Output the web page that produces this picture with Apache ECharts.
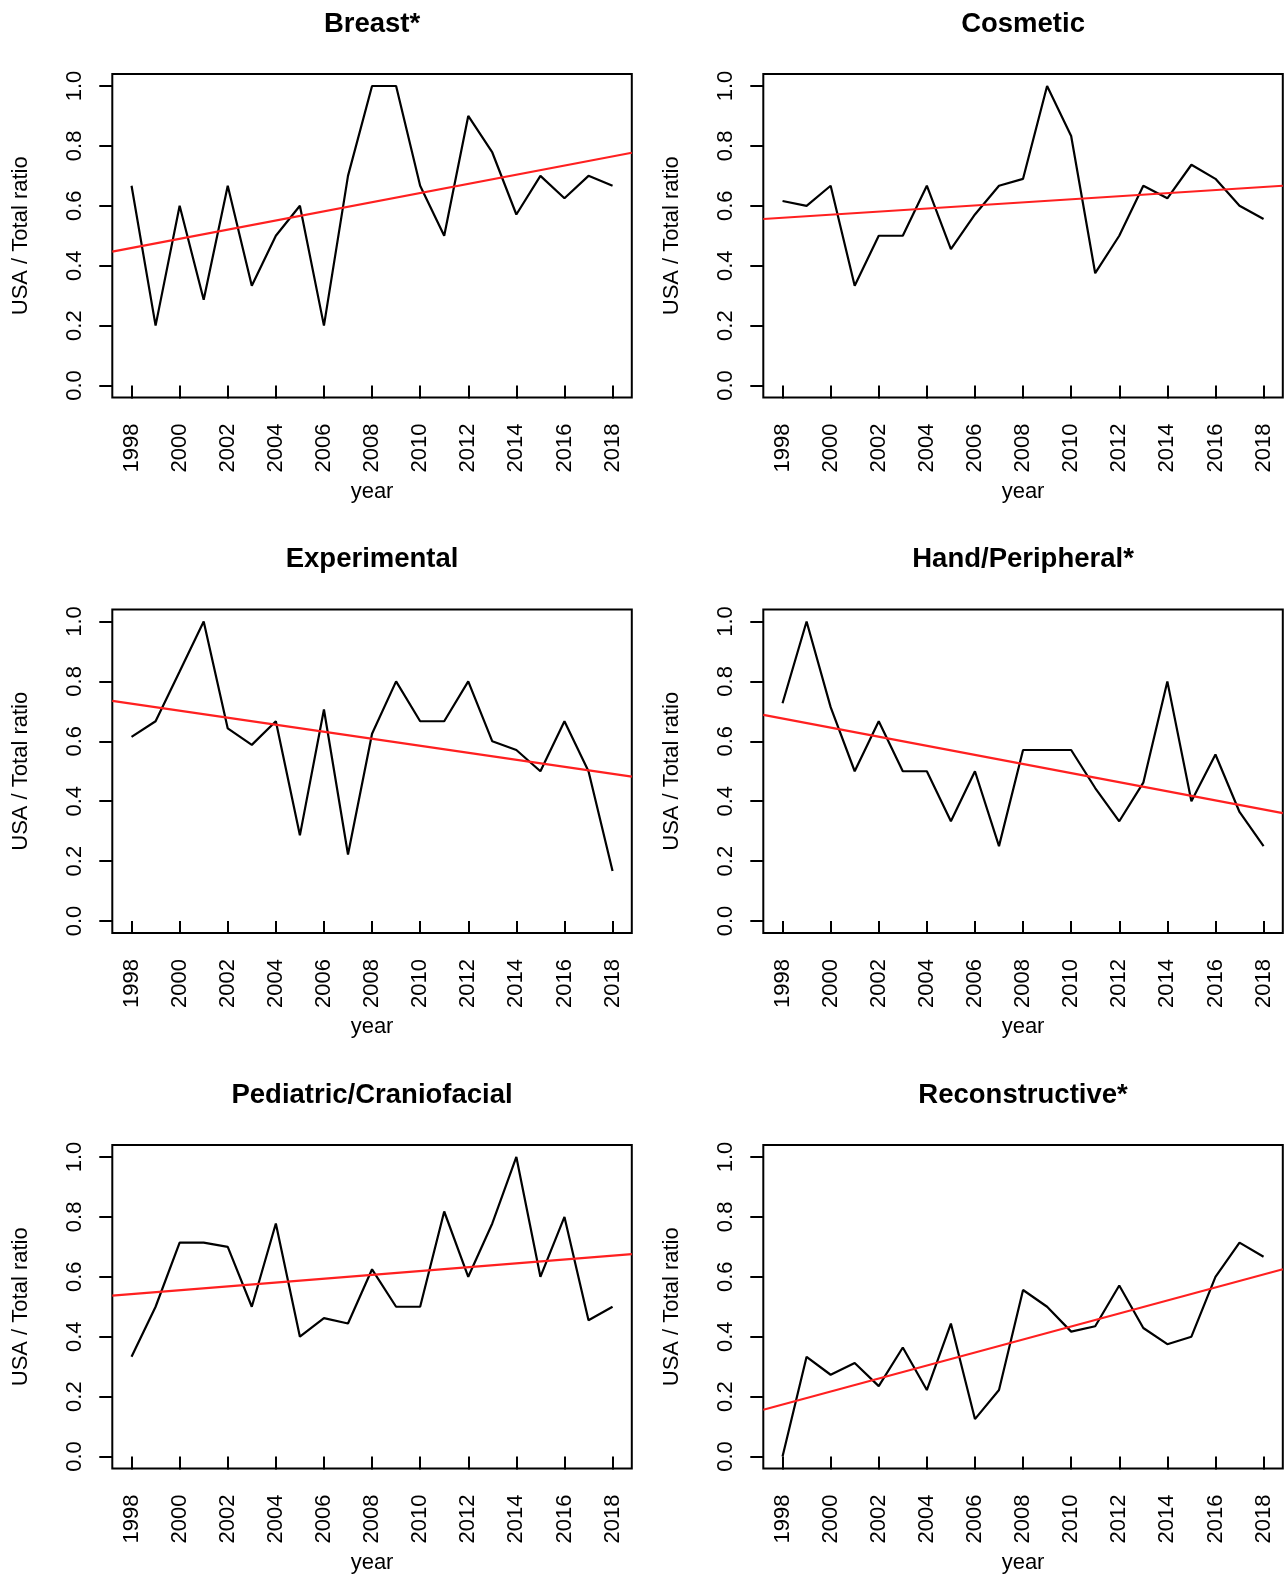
<!DOCTYPE html>
<html>
<head>
<meta charset="utf-8">
<script src="https://cdn.jsdelivr.net/npm/echarts@6/dist/echarts.min.js"></script>
<style>
body{margin:0;background:#fff}
#main{width:1288px;height:1576px}
</style>
</head>
<body>
<div id="main"></div>
<script>
// years on the x axis
var years = [1998,1999,2000,2001,2002,2003,2004,2005,2006,2007,2008,2009,2010,2011,2012,2013,2014,2015,2016,2017,2018];
var yearTicks = [1998,2000,2002,2004,2006,2008,2010,2012,2014,2016,2018];
var ratioTicks = [0,0.2,0.4,0.6,0.8,1.0];

var panelNames = ['Breast*','Cosmetic','Experimental','Hand/Peripheral*','Pediatric/Craniofacial','Reconstructive*'];

// USA / Total ratio per year
var breast       = [0.667,0.2,0.6,0.286,0.667,0.333,0.5,0.6,0.2,0.7,1.0,1.0,0.667,0.5,0.9,0.778,0.571,0.7,0.625,0.7,0.667];
var cosmetic     = [0.616,0.6,0.667,0.333,0.5,0.5,0.667,0.455,0.571,0.667,0.69,1.0,0.833,0.375,0.5,0.667,0.625,0.737,0.69,0.6,0.556];
var experimental = [0.615,0.667,0.833,1.0,0.643,0.588,0.667,0.286,0.706,0.222,0.625,0.8,0.667,0.667,0.8,0.6,0.571,0.5,0.667,0.5,0.167];
var hand         = [0.727,1.0,0.714,0.5,0.667,0.5,0.5,0.333,0.5,0.25,0.571,0.571,0.571,0.444,0.333,0.462,0.8,0.4,0.556,0.364,0.25];
var pediatric    = [0.333,0.5,0.714,0.714,0.7,0.5,0.778,0.4,0.462,0.444,0.625,0.5,0.5,0.818,0.6,0.778,1.0,0.6,0.8,0.455,0.5];
var reconstr     = [0.0,0.333,0.273,0.312,0.235,0.364,0.222,0.444,0.125,0.222,0.556,0.5,0.417,0.435,0.571,0.429,0.375,0.4,0.6,0.714,0.667];

// fitted trend line, value at left and right edge of the plot box
var trendX = [1997.2, 2018.8];
var trendStart = [0.447,0.556,0.735,0.688,0.537,0.156];
var trendEnd   = [0.777,0.667,0.482,0.360,0.676,0.625];

var panelData = [breast, cosmetic, experimental, hand, pediatric, reconstr];

var chart = echarts.init(document.getElementById('main'));

var font = '"Liberation Sans", Arial, Helvetica, sans-serif';
var boxLeft = [112.3, 763.3];
var boxTop = [74, 609.5, 1145];
var boxW = 519.5, boxH = 323.5;

var grids = [], xAxes = [], yAxes = [], series = [], graphics = [];

for (var i = 0; i < 6; i++) {
    var col = i % 2, row = Math.floor(i / 2);
    grids.push({
        left: boxLeft[col], top: boxTop[row], width: boxW, height: boxH,
        show: true, borderColor: '#000', borderWidth: 2, backgroundColor: 'transparent'
    });
    xAxes.push({
        type: 'value', gridIndex: i, min: 1997.2, max: 2018.8,
        name: 'year', nameLocation: 'middle', nameGap: 83,
        nameTextStyle: {fontFamily: font, fontSize: 22, color: '#000'},
        splitLine: {show: false},
        axisLine: {show: false},
        axisTick: {show: true, inside: false, length: 13, customValues: yearTicks,
            lineStyle: {color: '#000', width: 2}},
        axisLabel: {show: true, rotate: 90, margin: 26, customValues: yearTicks,
            fontFamily: font, fontSize: 22, color: '#000',
            formatter: function (v) { return String(v); }}
    });
    yAxes.push({
        type: 'value', gridIndex: i, min: -0.04, max: 1.04,
        name: 'USA / Total ratio', nameLocation: 'middle', nameGap: 80, nameRotate: 90,
        nameTextStyle: {fontFamily: font, fontSize: 22, color: '#000'},
        splitLine: {show: false},
        axisLine: {show: false},
        axisTick: {show: true, inside: false, length: 13, customValues: ratioTicks,
            lineStyle: {color: '#000', width: 2}},
        axisLabel: {show: true, rotate: 90, margin: 26, customValues: ratioTicks,
            fontFamily: font, fontSize: 22, color: '#000',
            formatter: function (v) { return v.toFixed(1); }}
    });
    var vals = panelData[i];
    series.push({
        type: 'line', xAxisIndex: i, yAxisIndex: i,
        data: years.map(function (y, k) { return [y, vals[k]]; }),
        symbol: 'none', lineStyle: {color: '#000', width: 2.2}, silent: true, z: 3
    });
    series.push({
        type: 'line', xAxisIndex: i, yAxisIndex: i,
        data: [[trendX[0], trendStart[i]], [trendX[1], trendEnd[i]]],
        symbol: 'none', lineStyle: {color: '#ff2020', width: 2.2}, silent: true, z: 4
    });
    graphics.push({
        type: 'text',
        x: boxLeft[col] + boxW / 2, y: boxTop[row] - 50,
        style: {text: panelNames[i], textAlign: 'center', textVerticalAlign: 'middle',
            font: 'bold 27.5px ' + font, fill: '#000'}
    });
}

chart.setOption({
    backgroundColor: '#fff',
    animation: false,
    grid: grids,
    xAxis: xAxes,
    yAxis: yAxes,
    series: series,
    graphic: graphics
});
</script>
</body>
</html>
